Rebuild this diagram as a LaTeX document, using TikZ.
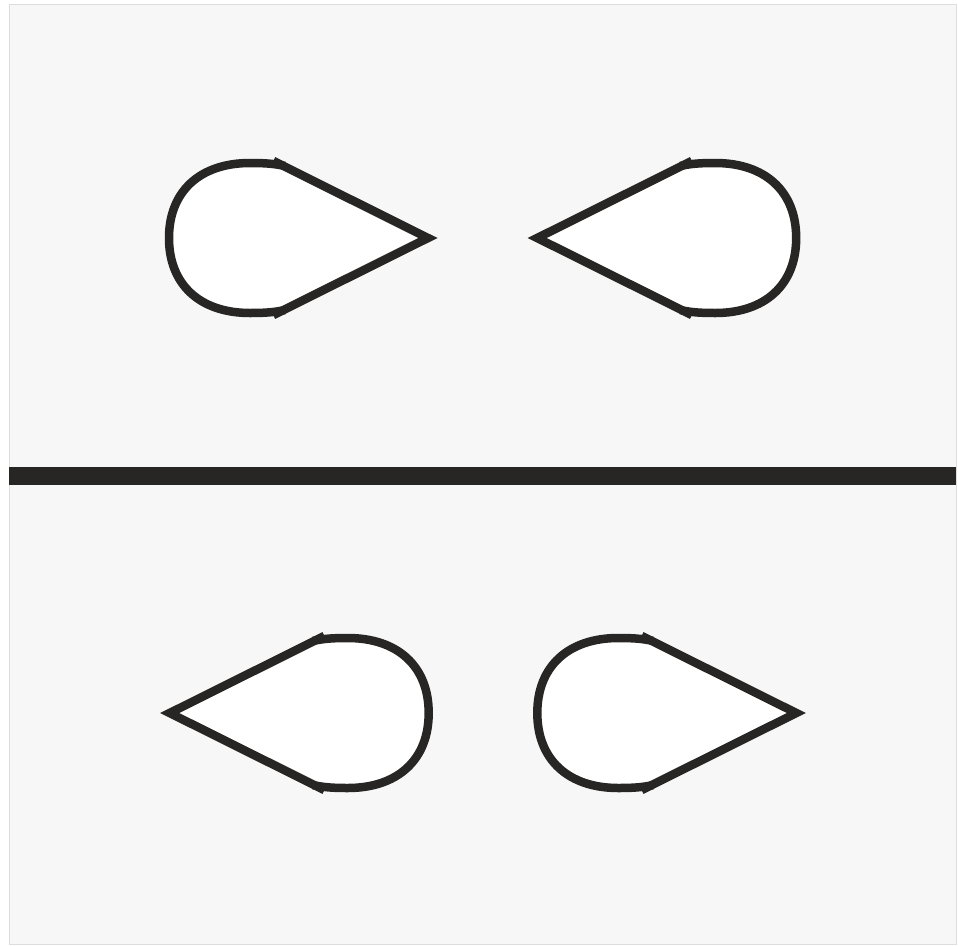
\documentclass[tikz,border=0pt]{standalone}
\definecolor{ink}{HTML}{282624}
\definecolor{panel}{HTML}{F7F7F7}
\definecolor{paneledge}{HTML}{DDDDDD}
\tikzset{
  outline/.style={draw=ink, line width=8.5pt, line join=miter, line cap=butt},
  dropfill/.style={fill=white},
}
\newcommand\dropround{(41.5,-72) .. controls (30,-74.5) and (20,-75) .. (6.5,-75)
      .. controls (-43.7,-75) and (-74.5,-46.5) .. (-74.5,0)
      .. controls (-74.5,46.5) and (-43.7,75) .. (6.5,75)
      .. controls (20,75) and (30,74.5) .. (41.5,72)}
\newcommand\teardrop[3]{%
  \begin{scope}[shift={(#1,#2)}, xscale=#3]
    \fill[dropfill] \dropround -- (29.8,77.1) -- (184.5,0) -- (29.8,-77.1) -- cycle;
    \draw[outline] \dropround;
    \draw[outline] (29.8,-77.1) -- (184.5,0) -- (29.8,77.1);
  \end{scope}}
\begin{document}
\begin{tikzpicture}[x=1pt,y=-1pt]
  \fill[white] (0,0) rectangle (958,945);
  \useasboundingbox (0,0) rectangle (958,945);
  \filldraw[fill=panel, draw=paneledge, line width=1pt] (9,4) rectangle (956,944);
  \fill[ink] (9,467) rectangle (956,485);
  \teardrop{243.5}{238}{1}
  \teardrop{721.7}{238}{-1}
  \teardrop{354.2}{713}{-1}
  \teardrop{611.8}{713}{1}
\end{tikzpicture}
\end{document}
